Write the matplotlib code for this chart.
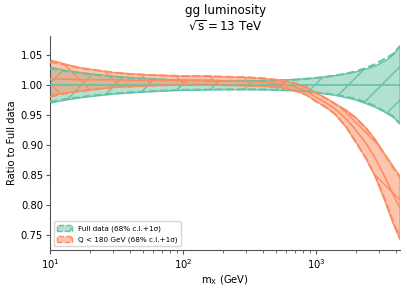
import matplotlib
matplotlib.use("Agg")
import matplotlib.pyplot as plt
from matplotlib.patches import Patch
import numpy as np

plt.rcParams['mathtext.default'] = 'regular'

# invariant mass grid (GeV)
mx = [10, 13, 17, 22, 30, 40, 55, 75, 100, 150, 200, 300, 400, 550,
      700, 850, 1000, 1200, 1400, 1700, 2000, 2400, 2800, 3300, 3800, 4300]

# Full data: 68% c.l. band and 1 sigma half-width (central = 1)
full_hi = [1.030, 1.025, 1.021, 1.018, 1.015, 1.013, 1.011, 1.0095, 1.0085, 1.008,
           1.0075, 1.0075, 1.0078, 1.0085, 1.0095, 1.011, 1.012, 1.014, 1.016, 1.019,
           1.022, 1.027, 1.032, 1.040, 1.050, 1.066]
full_lo = [0.970, 0.975, 0.979, 0.982, 0.985, 0.987, 0.989, 0.9905, 0.9915, 0.992,
           0.9925, 0.9925, 0.9922, 0.9915, 0.9905, 0.989, 0.987, 0.985, 0.983, 0.979,
           0.975, 0.969, 0.963, 0.955, 0.947, 0.936]
full_sd = [0.028, 0.0235, 0.020, 0.017, 0.014, 0.012, 0.0105, 0.009, 0.008, 0.0075,
           0.007, 0.007, 0.0073, 0.008, 0.009, 0.0105, 0.012, 0.014, 0.016, 0.0195,
           0.023, 0.029, 0.035, 0.044, 0.052, 0.065]

# Q < 180 GeV fit, ratio to full data
cut_c = [1.010, 1.010, 1.009, 1.009, 1.009, 1.008, 1.008, 1.008, 1.008, 1.008,
         1.007, 1.006, 1.005, 1.002, 0.997, 0.990, 0.980, 0.970, 0.960, 0.943,
         0.925, 0.902, 0.878, 0.847, 0.818, 0.795]
cut_hi = [1.042, 1.035, 1.029, 1.025, 1.021, 1.019, 1.017, 1.016, 1.015, 1.015,
          1.014, 1.013, 1.011, 1.008, 1.003, 0.996, 0.987, 0.978, 0.969, 0.958,
          0.946, 0.928, 0.909, 0.885, 0.865, 0.848]
cut_lo = [0.983, 0.987, 0.990, 0.993, 0.996, 0.998, 0.999, 1.000, 1.000, 1.000,
          1.000, 0.999, 0.998, 0.996, 0.991, 0.984, 0.973, 0.963, 0.951, 0.929,
          0.905, 0.876, 0.847, 0.807, 0.770, 0.742]
cut_sd = [0.029, 0.024, 0.019, 0.016, 0.012, 0.0105, 0.009, 0.008, 0.007, 0.007,
          0.007, 0.007, 0.0065, 0.006, 0.006, 0.0065, 0.007, 0.0075, 0.0085, 0.0135,
          0.020, 0.025, 0.030, 0.037, 0.045, 0.051]

labels = ['Full data (68% c.l.+1σ)', 'Q < 180 GeV (68% c.l.+1σ)']
colors = ['#66c2a5', '#fc8d62']
hatches = ['/', '\\']

fig = plt.figure(figsize=(4.07, 2.88), dpi=100)
ax = fig.add_axes([0.123, 0.132, 0.86, 0.743])

x = np.array(mx)
series = [
    (np.ones(len(mx)), np.array(full_lo), np.array(full_hi), np.array(full_sd)),
    (np.array(cut_c), np.array(cut_lo), np.array(cut_hi), np.array(cut_sd)),
]

handles = []
for (c, lo, hi, sd), col, h, lab in zip(series, colors, hatches, labels):
    ax.fill_between(x, lo, hi, facecolor=matplotlib.colors.to_rgba(col, 0.5),
                    edgecolor=col, hatch=h, linewidth=1.0, zorder=2)
    ax.plot(x, c, color=col, lw=1.2, zorder=3)
    ax.plot(x, c + sd, color=col, lw=1.5, ls='--', zorder=3)
    ax.plot(x, c - sd, color=col, lw=1.5, ls='--', zorder=3)
    handles.append(Patch(facecolor=matplotlib.colors.to_rgba(col, 0.5), edgecolor=col,
                         hatch=h, linestyle='--', linewidth=1.0, label=lab))

ax.set_xscale('log')
ax.set_xlim(10, 4300)
ax.set_ylim(0.725, 1.082)
ax.set_yticks([0.75, 0.80, 0.85, 0.90, 0.95, 1.00, 1.05])

for s in ['top', 'right']:
    ax.spines[s].set_visible(False)
for s in ['left', 'bottom']:
    ax.spines[s].set_color('#555555')
ax.tick_params(axis='both', which='major', labelsize=7.2, length=3, pad=2,
               color='#555555')
ax.tick_params(axis='x', which='minor', length=1.8, color='#555555')

ax.set_xlabel('$m_X$ (GeV)', fontsize=7.2, labelpad=2)
ax.set_ylabel('Ratio to Full data', fontsize=7.2, labelpad=3)
ax.set_title('gg luminosity\n$\\sqrt{s} = 13$ TeV', fontsize=8.6, pad=4)

ax.legend(handles=handles, loc='lower left', fontsize=5.2, handlelength=2.0,
          handleheight=1.0, borderpad=0.5, labelspacing=0.5, framealpha=0.8)

fig.savefig('out.png', dpi=100)
